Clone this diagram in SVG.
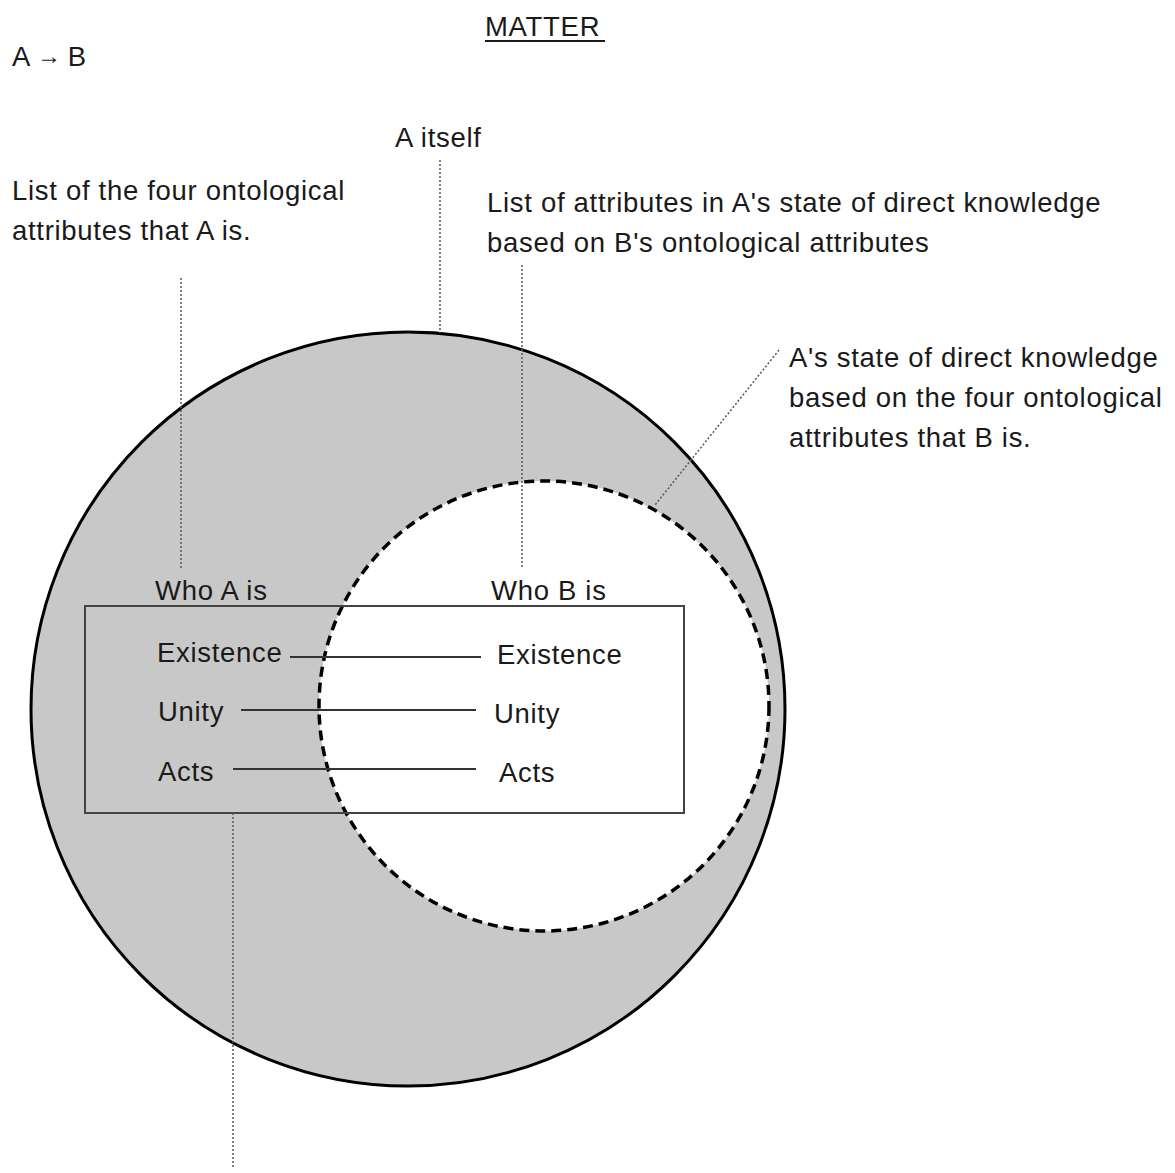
<svg xmlns="http://www.w3.org/2000/svg" width="1175" height="1173" viewBox="0 0 1175 1173">
<style>
text{font-family:"Liberation Sans",Arial,sans-serif;font-size:27.5px;letter-spacing:0.7px;fill:#1a1a1a}
.dot{stroke:#555;stroke-width:1.5;stroke-dasharray:2 2;fill:none}
.link{stroke:#333;stroke-width:2;fill:none}
</style>
<rect width="1175" height="1173" fill="#fff"/>
<g id="title">
<text x="485" y="36">MATTER</text>
<line x1="485" y1="41" x2="605" y2="41" stroke="#1a1a1a" stroke-width="2"/>
</g>
<g id="ab"><text x="12" y="66" style="letter-spacing:0">A<tspan font-size="24px" dy="-2"> → </tspan><tspan dy="2">B</tspan></text></g>
<g id="outer-circle"><circle cx="408" cy="709" r="377" fill="#c8c8c8" stroke="#000" stroke-width="3"/></g>
<g id="inner-circle"><circle cx="544" cy="706" r="225" fill="#fff" stroke="#000" stroke-width="3.5" stroke-dasharray="10 6"/></g>
<g id="box"><rect x="85" y="606" width="599" height="207" fill="none" stroke="#444" stroke-width="2"/></g>
<g id="labels">
<text x="395" y="147">A itself</text>
<text x="12" y="200">List of the four ontological</text>
<text x="12" y="240">attributes that A is.</text>
<text x="487" y="212">List of attributes in A's state of direct knowledge</text>
<text x="487" y="252">based on B's ontological attributes</text>
<text x="789" y="367">A's state of direct knowledge</text>
<text x="789" y="407">based on the four ontological</text>
<text x="789" y="447">attributes that B is.</text>
</g>
<g id="who-a">
<text x="155" y="600">Who A is</text>
<text x="157" y="662">Existence</text>
<text x="158" y="721">Unity</text>
<text x="158" y="781">Acts</text>
</g>
<g id="who-b">
<text x="491" y="600">Who B is</text>
<text x="497" y="664">Existence</text>
<text x="494" y="723">Unity</text>
<text x="499" y="782">Acts</text>
</g>
<g id="connectors">
<line class="link" x1="290" y1="657" x2="481" y2="657"/>
<line class="link" x1="241" y1="710" x2="476" y2="710"/>
<line class="link" x1="233" y1="769" x2="476" y2="769"/>
<line class="dot" x1="181" y1="278" x2="181" y2="570"/>
<line class="dot" x1="440" y1="160" x2="440" y2="333"/>
<line class="dot" x1="522" y1="265" x2="522" y2="567"/>
<line class="dot" x1="233" y1="813" x2="233" y2="1168"/>
<line class="dot" x1="779" y1="350" x2="655" y2="505"/>
</g>
</svg>
